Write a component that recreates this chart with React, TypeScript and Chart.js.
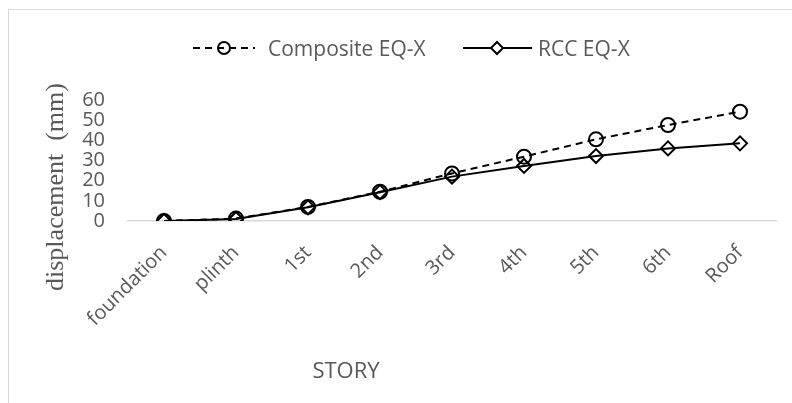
import React, { useEffect, useRef } from 'react';
import { Chart, registerables } from 'chart.js';

Chart.register(...registerables);

// Story levels along the horizontal axis
const stories = ['foundation', 'plinth', '1st', '2nd', '3rd', '4th', '5th', '6th', 'Roof'];

// Lateral displacement (mm) under EQ-X loading
const compositeEqX = [0, 1.2, 7.0, 14.5, 23.6, 31.9, 40.5, 47.6, 54.2];
const rccEqX = [0, 1.0, 6.8, 14.3, 22.0, 27.3, 32.2, 36.0, 38.5];

const seriesNames = ['Composite EQ-X', 'RCC EQ-X'];

// Vertical axis range
const yMin = 0;
const yMax = 60;
const yStep = 10;

const xTitle = 'STORY';
const yTitle = 'displacement  (mm)';

const TEXT = '#595959';
const FRAME = '#d9d9d9';
const SANS = '"Open Sans"';
const SERIF = '"Liberation Serif"';

function drawCircle(ctx: CanvasRenderingContext2D, x: number, y: number, r: number) {
  ctx.beginPath();
  ctx.arc(x, y, r, 0, Math.PI * 2);
  ctx.stroke();
}

function drawDiamond(ctx: CanvasRenderingContext2D, x: number, y: number, r: number) {
  ctx.beginPath();
  ctx.moveTo(x - r, y);
  ctx.lineTo(x, y - r);
  ctx.lineTo(x + r, y);
  ctx.lineTo(x, y + r);
  ctx.closePath();
  ctx.stroke();
}

const decorations = {
  id: 'decorations',
  beforeDraw(chart: Chart) {
    const { ctx, width, height } = chart;
    ctx.save();
    ctx.fillStyle = '#ffffff';
    ctx.fillRect(0, 0, width, height);
    ctx.strokeStyle = FRAME;
    ctx.lineWidth = 1;
    ctx.beginPath();
    ctx.moveTo(8.5, height);
    ctx.lineTo(8.5, 9.5);
    ctx.lineTo(width, 9.5);
    ctx.stroke();
    ctx.restore();
  },
  afterDraw(chart: Chart) {
    const { ctx } = chart;
    const ds = chart.data.datasets;
    ctx.save();

    // legend
    const ly = 48;
    ctx.strokeStyle = '#000000';
    ctx.lineWidth = 2;
    ctx.setLineDash([7, 5]);
    ctx.beginPath();
    ctx.moveTo(193, ly);
    ctx.lineTo(255, ly);
    ctx.stroke();
    ctx.setLineDash([]);
    drawCircle(ctx, 224, ly, 6);

    ctx.beginPath();
    ctx.moveTo(463, ly);
    ctx.lineTo(532, ly);
    ctx.stroke();
    ctx.fillStyle = '#ffffff';
    ctx.beginPath();
    ctx.moveTo(491, ly);
    ctx.lineTo(497, ly - 6);
    ctx.lineTo(503, ly);
    ctx.lineTo(497, ly + 6);
    ctx.closePath();
    ctx.fill();
    drawDiamond(ctx, 497, ly, 6);

    ctx.fillStyle = TEXT;
    ctx.font = `21px ${SANS}`;
    ctx.textAlign = 'left';
    ctx.textBaseline = 'alphabetic';
    ctx.fillText(String(ds[0].label), 268, 56);
    ctx.fillText(String(ds[1].label), 538, 56);

    // axis titles
    ctx.font = `22px ${SANS}`;
    ctx.textAlign = 'center';
    ctx.fillText(xTitle, 346, 378);

    ctx.translate(56, 187);
    ctx.rotate(-Math.PI / 2);
    ctx.font = `26px ${SERIF}`;
    ctx.textBaseline = 'middle';
    ctx.fillText(yTitle, 0, 0);

    ctx.restore();
  },
};

export default function App() {
  const canvasRef = useRef<HTMLCanvasElement | null>(null);

  useEffect(() => {
    const canvas = canvasRef.current;
    if (!canvas) return;
    const chart = new Chart(canvas, {
      type: 'line',
      data: {
        labels: stories,
        datasets: [
          {
            label: seriesNames[0],
            data: compositeEqX,
            borderColor: '#000000',
            borderWidth: 2,
            borderDash: [7, 5],
            pointStyle: 'circle',
            pointRadius: 7,
            pointBorderWidth: 2,
            pointBorderColor: '#000000',
            pointBackgroundColor: 'rgba(0,0,0,0)',
            tension: 0,
            fill: false,
          },
          {
            label: seriesNames[1],
            data: rccEqX,
            borderColor: '#000000',
            borderWidth: 2,
            pointStyle: 'rectRot',
            pointRadius: 7,
            pointBorderWidth: 2,
            pointBorderColor: '#000000',
            pointBackgroundColor: 'rgba(0,0,0,0)',
            tension: 0,
            fill: false,
          },
        ],
      },
      options: {
        responsive: false,
        animation: false,
        devicePixelRatio: 1,
        layout: { padding: { top: 100, left: 0, right: 16, bottom: 0 } },
        plugins: {
          legend: { display: false },
          tooltip: { enabled: false },
          title: { display: false },
        },
        scales: {
          x: {
            type: 'category',
            offset: true,
            grid: { display: false, drawTicks: false },
            border: { display: true, color: FRAME, width: 1.5 },
            ticks: {
              autoSkip: false,
              minRotation: 45,
              maxRotation: 45,
              padding: 20,
              color: TEXT,
              font: { family: SANS, size: 20 },
            },
            afterFit(scale: any) {
              scale.height = 182;
            },
          },
          y: {
            min: yMin,
            max: yMax,
            grid: { display: false, drawTicks: false },
            border: { display: false },
            ticks: {
              stepSize: yStep,
              autoSkip: false,
              padding: 23,
              color: TEXT,
              font: { family: SANS, size: 20 },
            },
            afterFit(scale: any) {
              scale.width = 128;
            },
          },
        },
      },
      plugins: [decorations],
    });
    return () => chart.destroy();
  }, []);

  return (
    <canvas
      ref={canvasRef}
      width={792}
      height={403}
      style={{ position: 'absolute', left: 0, top: 0, display: 'block' }}
    />
  );
}
